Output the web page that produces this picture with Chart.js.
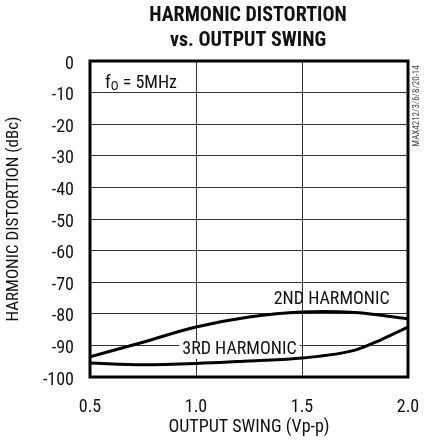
<!DOCTYPE html>
<html>
<head>
<meta charset="utf-8">
<script src="https://cdn.jsdelivr.net/npm/chart.js@4"></script>
<style>
    html, body { margin: 0; padding: 0; background: #fff; }
    #wrap { width: 426px; height: 445px; position: relative; }
</style>
</head>
<body>
<div id="wrap"><canvas id="chart"></canvas></div>
<script>
const FONT = "'Roboto Condensed', 'DejaVu Sans Condensed', sans-serif";

// data
const swing2nd = [0.5, 0.75, 1.0, 1.25, 1.5, 1.75, 2.0];
const hd2nd = [-93.6, -89.0, -84.2, -81.0, -79.4, -79.6, -81.6];

const swing3rd = [0.5, 0.75, 1.0, 1.25, 1.5, 1.75, 1.87, 2.0];
const hd3rd = [-95.6, -96.1, -95.7, -94.9, -94.0, -91.5, -88.3, -84.2];

const xTicks = [0.5, 1.0, 1.5, 2.0];
const yTicks = [0, -10, -20, -30, -40, -50, -60, -70, -80, -90, -100];

const toPoints = (xs, ys) => xs.map((x, i) => ({ x: x, y: ys[i] }));

// frame, annotations and the side code
const extras = {
    id: "extras",
    beforeDatasetsDraw(chart) {
        const { ctx, scales: { x, y } } = chart;
        ctx.save();
        ctx.fillStyle = "#111";
        ctx.textBaseline = "middle";

        // 2ND HARMONIC label
        ctx.font = "18px " + FONT;
        ctx.textAlign = "center";
        ctx.fillText("2ND HARMONIC", x.getPixelForValue(1.64), y.getPixelForValue(-75.6));

        // 3RD HARMONIC label with white box over the grid
        const lx = x.getPixelForValue(1.205), ly = y.getPixelForValue(-91.4);
        const w = ctx.measureText("3RD HARMONIC").width;
        ctx.fillStyle = "#fff";
        ctx.fillRect(lx - w / 2 - 3, ly - 9, w + 6, 18);
        ctx.fillStyle = "#111";
        ctx.fillText("3RD HARMONIC", lx, ly);

        // f0 = 5MHz
        ctx.textAlign = "left";
        const fx = x.left + 15, fy = y.getPixelForValue(-7);
        ctx.font = "18px " + FONT;
        ctx.fillText("f", fx, fy);
        const fw = ctx.measureText("f").width;
        ctx.font = "13px " + FONT;
        ctx.fillText("O", fx + fw, fy + 4);
        const ow = ctx.measureText("O").width;
        ctx.font = "18px " + FONT;
        ctx.fillText(" = 5MHz", fx + fw + ow, fy);
        ctx.restore();
    },
    afterDraw(chart) {
        const { ctx, chartArea: a } = chart;
        ctx.save();
        ctx.strokeStyle = "#000";
        ctx.lineWidth = 3;
        ctx.strokeRect(a.left, a.top, a.right - a.left, a.bottom - a.top);

        // title
        ctx.fillStyle = "#111";
        ctx.textAlign = "center";
        ctx.textBaseline = "middle";
        ctx.font = "bold 20px " + FONT;
        ctx.fillText("HARMONIC DISTORTION", 248, 16);
        ctx.fillText("vs. OUTPUT SWING", 248, 41);

        // side code
        ctx.translate(417, 106);
        ctx.rotate(-Math.PI / 2);
        ctx.font = "9px " + FONT;
        ctx.fillStyle = "#444";
        ctx.fillText("MAX4212/3/6/8/20-14", 0, 0);
        ctx.restore();
    }
};

new Chart(document.getElementById("chart"), {
    type: "line",
    data: {
        datasets: [
            {
                label: "2nd",
                data: toPoints(swing2nd, hd2nd),
                borderColor: "#000",
                borderWidth: 3,
                pointRadius: 0,
                tension: 0.4,
                fill: false
            },
            {
                label: "3rd",
                data: toPoints(swing3rd, hd3rd),
                borderColor: "#000",
                borderWidth: 3,
                pointRadius: 0,
                cubicInterpolationMode: "monotone",
                fill: false
            }
        ]
    },
    options: {
        responsive: true,
        maintainAspectRatio: false,
        animation: false,
        devicePixelRatio: 1,
        layout: { padding: { top: 61, right: 18, left: 0, bottom: 0 } },
        plugins: { legend: { display: false }, tooltip: { enabled: false } },
        scales: {
            x: {
                type: "linear",
                min: 0.5,
                max: 2.0,
                afterBuildTicks: s => { s.ticks = xTicks.map(v => ({ value: v })); },
                afterFit: s => { s.height = 68; s.paddingLeft = 0; s.paddingRight = 0; },
                grid: { color: "#333", lineWidth: 1, drawTicks: false },
                border: { display: false },
                ticks: {
                    color: "#111",
                    padding: 20,
                    maxRotation: 0,
                    font: { family: FONT, size: 18 },
                    callback: v => v.toFixed(1)
                },
                title: {
                    display: true,
                    text: "OUTPUT SWING (Vp-p)",
                    color: "#111",
                    font: { family: FONT, size: 18 },
                    padding: { top: 0, bottom: 7 }
                }
            },
            y: {
                type: "linear",
                min: -100,
                max: 0,
                afterBuildTicks: s => { s.ticks = yTicks.map(v => ({ value: v })); },
                afterFit: s => { s.width = 90; s.paddingTop = 0; s.paddingBottom = 0; },
                grid: { color: "#333", lineWidth: 1, drawTicks: false },
                border: { display: false },
                ticks: {
                    color: "#111",
                    padding: 16,
                    labelOffset: 3,
                    font: { family: FONT, size: 18 }
                },
                title: {
                    display: true,
                    text: "HARMONIC DISTORTION (dBc)",
                    color: "#111",
                    font: { family: FONT, size: 17 },
                    padding: { top: 4, bottom: 0 }
                }
            }
        }
    },
    plugins: [extras]
});
</script>
</body>
</html>
